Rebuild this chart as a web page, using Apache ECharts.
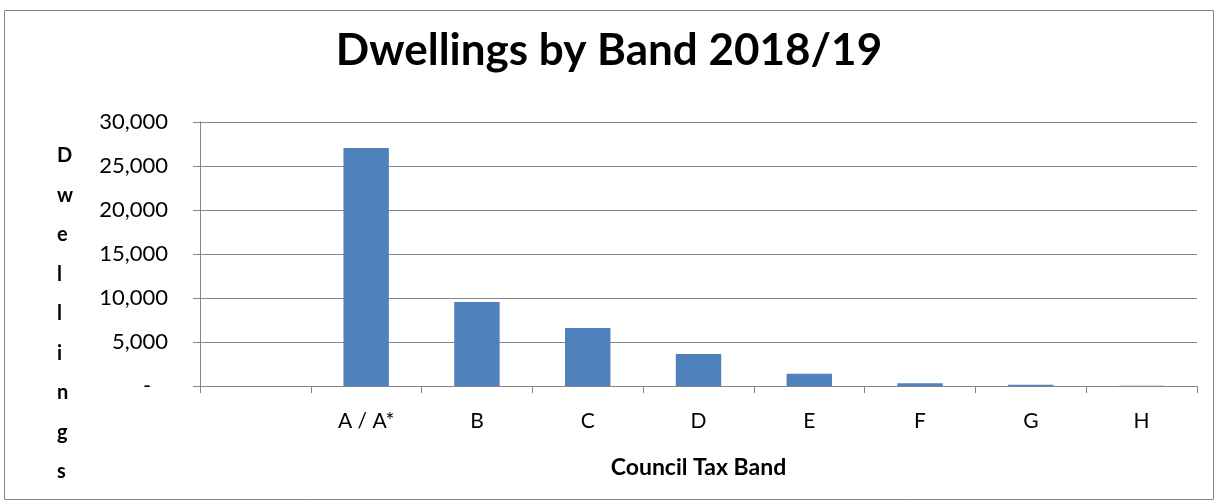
<!DOCTYPE html>
<html>
<head>
<meta charset="utf-8">
<script src="https://cdn.jsdelivr.net/npm/echarts@6/dist/echarts.min.js"></script>
<style>
  html, body { margin: 0; padding: 0; background: #fff; }
  #chart { width: 1218px; height: 502px; }
</style>
</head>
<body>
<div id="chart"></div>
<script>
// data
var bands = ['', 'A / A*', 'B', 'C', 'D', 'E', 'F', 'G', 'H'];
var dwellings = [null, 27050, 9550, 6600, 3650, 1380, 300, 140, 20];
var yTicks = [0, 5000, 10000, 15000, 20000, 25000, 30000];

var font = 'Lato, "Open Sans", sans-serif';

function fmt(v) {
  if (v === 0) return '-   ';
  return v.toString().replace(/\B(?=(\d{3})+(?!\d))/g, ',');
}

var chart = echarts.init(document.getElementById('chart'));

var option = {
  animation: false,
  backgroundColor: '#fff',
  textStyle: { fontFamily: font },
  title: {
    text: 'Dwellings by Band 2018/19',
    left: 'center',
    top: 24,
    textStyle: { fontFamily: font, fontSize: 44, fontWeight: 'bold', color: '#000' }
  },
  graphic: [{
    type: 'rect',
    shape: { x: 4.5, y: 10.5, width: 1209, height: 489 },
    style: { fill: 'none', stroke: '#868686', lineWidth: 1 },
    silent: true
  }, {
    type: 'text',
    left: 57,
    top: 136,
    style: {
      text: 'Dwellings'.split('').join('\n'),
      font: 'bold 20px ' + font,
      lineHeight: 39.5,
      align: 'center',
      fill: '#000'
    }
  }],
  grid: { left: 200, right: 21, top: 122, bottom: 116 },
  xAxis: {
    type: 'category',
    data: bands,
    name: 'Council Tax Band',
    nameLocation: 'middle',
    nameGap: 70,
    nameTextStyle: { fontFamily: font, fontSize: 23, fontWeight: 'bold', color: '#000' },
    axisLine: { lineStyle: { color: '#868686', width: 1 } },
    axisTick: { show: true, length: 7, alignWithLabel: false, lineStyle: { color: '#868686' } },
    axisLabel: { fontFamily: font, fontSize: 21, color: '#000', margin: 25, interval: 0 }
  },
  yAxis: {
    type: 'value',
    min: yTicks[0],
    max: yTicks[yTicks.length - 1],
    interval: 5000,
    axisLine: { show: true, lineStyle: { color: '#868686' } },
    axisTick: { show: true, length: 7, lineStyle: { color: '#868686' } },
    splitLine: { lineStyle: { color: '#868686', width: 1 } },
    axisLabel: { fontFamily: font, fontSize: 22, color: '#000', margin: 32, formatter: fmt }
  },
  series: [{
    type: 'bar',
    data: dwellings,
    barWidth: '41%',
    itemStyle: { color: '#4f81bd' }
  }]
};

chart.setOption(option);
</script>
</body>
</html>
